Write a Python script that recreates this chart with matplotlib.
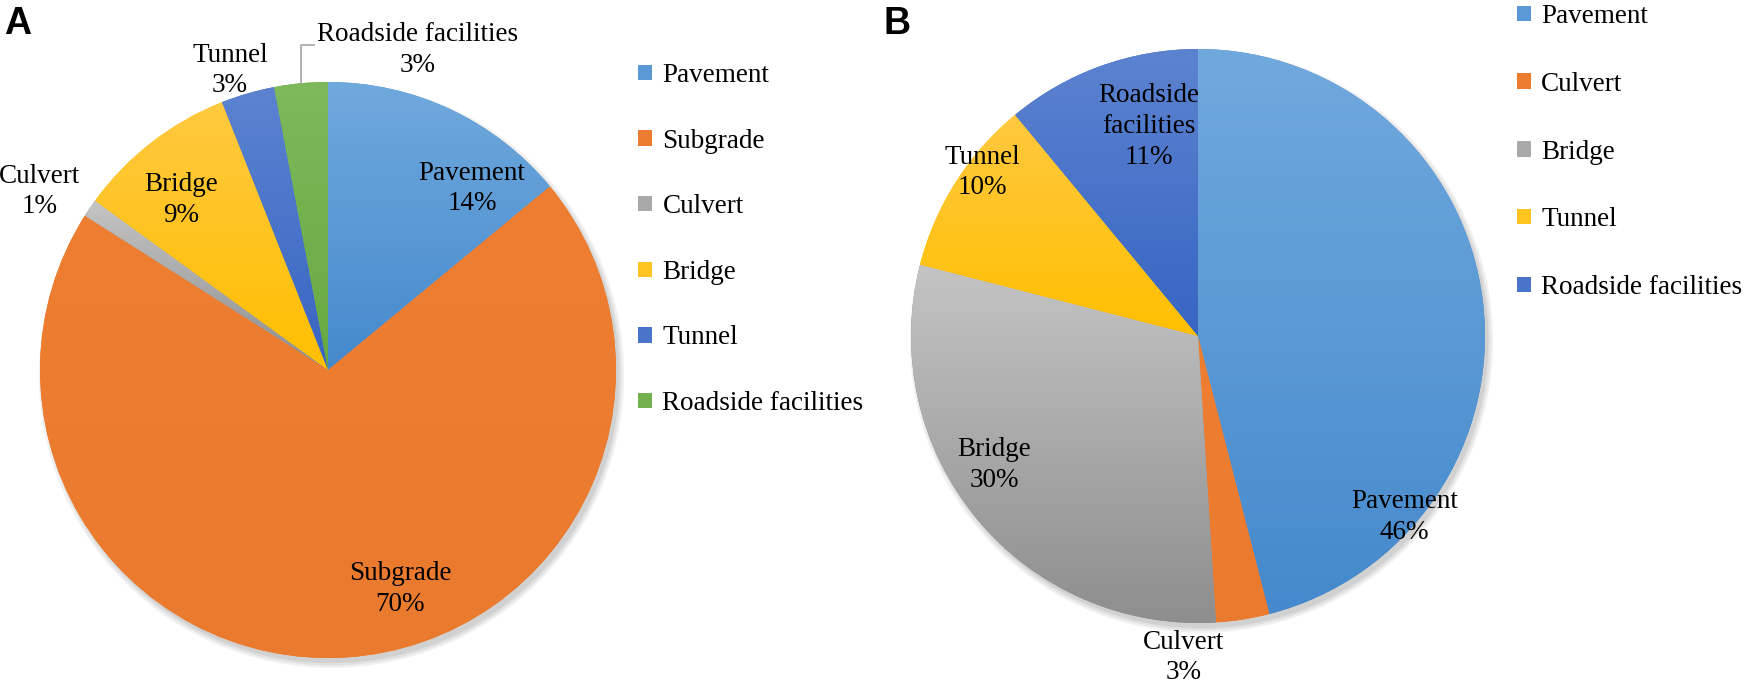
import numpy as np
import matplotlib
matplotlib.use("Agg")
import matplotlib.pyplot as plt
from matplotlib.colors import to_rgb
from matplotlib.patches import Circle, Patch

plt.rcParams['font.family'] = ['Liberation Serif', 'DejaVu Serif']

W, H = 1747, 690

# datos panel A
labels_a = ['Pavement', 'Subgrade', 'Culvert', 'Bridge', 'Tunnel', 'Roadside facilities']
values_a = [14, 70, 1, 9, 3, 3]
# datos panel B
labels_b = ['Pavement', 'Culvert', 'Bridge', 'Tunnel', 'Roadside facilities']
values_b = [46, 3, 30, 10, 11]
# en B la etiqueta de Roadside va en dos lineas
text_b = ['Pavement', 'Culvert', 'Bridge', 'Tunnel', 'Roadside\nfacilities']

# colores tipo Office (arriba, abajo) del degradado
palette = [('#70a9dd', '#4589cc'),
           ('#ee7e32', '#ea7a2e'),
           ('#c4c4c4', '#8e8e8e'),
           ('#ffc940', '#ffbf00'),
           ('#5c83d0', '#3865c3'),
           ('#7eb95b', '#68a942')]

# posiciones de etiquetas en unidades del pie (estilo)
pos_a = [(0.50, 0.63), (0.25, -0.76), (-1.0, 0.62), (-0.51, 0.59), (-0.34, 1.04), (0.31, 1.11)]
pos_b = [(0.72, -0.63), (-0.05, -1.12), (-0.71, -0.45), (-0.75, 0.57), (-0.17, 0.73)]

fs = 19.5


def mix(c1, c2):
    return tuple((np.array(to_rgb(c1)) + np.array(to_rgb(c2))) / 2)


def grad_wedge(ax, w, c_top, c_bot):
    t = np.radians(np.linspace(w.theta1, w.theta2, 60))
    xs = np.concatenate([[0], np.cos(t)])
    ys = np.concatenate([[0], np.sin(t)])
    a = np.array(to_rgb(c_top))
    b = np.array(to_rgb(c_bot))
    g = np.linspace(0, 1, 100)[:, None]
    img = (a[None, :] * (1 - g) + b[None, :] * g)[:, None, :]
    im = ax.imshow(img, extent=[xs.min(), xs.max(), ys.min(), ys.max()],
                   aspect='auto', origin='upper', zorder=2, interpolation='bilinear')
    im.set_clip_path(w)


def draw_pie(cx, cy, r, values, names, pos):
    ax = fig.add_axes([(cx - r) / W, 1 - (cy + r) / H, 2 * r / W, 2 * r / H])
    # sombra suave
    for k, al in enumerate([0.06, 0.06, 0.07]):
        ax.add_patch(Circle((0.012, -0.018), 1.0 + 0.008 * (2 - k), color='k',
                            alpha=al, lw=0, zorder=0, clip_on=False))
    cols = [palette[i][1] for i in range(len(values))]
    wedges, _ = ax.pie(values, colors=cols, startangle=90, counterclock=False,
                       radius=1, wedgeprops=dict(linewidth=0, zorder=1))
    for i, w in enumerate(wedges):
        grad_wedge(ax, w, palette[i][0], palette[i][1])
    for name, v, (x, y) in zip(names, values, pos):
        ax.text(x, y, f'{name}\n{v}%', ha='center', va='center', fontsize=fs,
                linespacing=1.3, zorder=5, clip_on=False)
    ax.set_xlim(-1, 1)
    ax.set_ylim(-1, 1)
    ax.set_aspect('auto')
    ax.axis('off')
    return ax, wedges


fig = plt.figure(figsize=(W / 100, H / 100), dpi=100)

ax_a, w_a = draw_pie(328, 370, 288, values_a, labels_a, pos_a)
ax_b, w_b = draw_pie(1198, 336, 287, values_b, text_b, pos_b)

# linea guia de Roadside facilities (A)
mid = np.radians((w_a[-1].theta1 + w_a[-1].theta2) / 2)
ax_a.plot([np.cos(mid), np.cos(mid), np.cos(mid) + 0.045],
          [np.sin(mid), 1.13, 1.13], color='#a6a6a6', lw=1.2, clip_on=False, zorder=4)

# leyendas
def legend(names, x, y, sp):
    h = [Patch(facecolor=mix(*palette[i]), edgecolor='none') for i in range(len(names))]
    fig.legend(h, names, loc='upper left', bbox_to_anchor=(x / W, 1 - y / H),
               frameon=False, fontsize=fs, handlelength=0.5, handleheight=0.5,
               handletextpad=0.4, labelspacing=sp, borderpad=0, borderaxespad=0)

legend(labels_a, 638, 63, 1.5)
legend(labels_b, 1517, 4, 1.58)

fig.text(4 / W, 1 - 6 / H, 'A', family='Liberation Sans', weight='bold', size=27, va='top')
fig.text(884 / W, 1 - 6 / H, 'B', family='Liberation Sans', weight='bold', size=27, va='top')

fig.savefig('out.png', dpi=100)
